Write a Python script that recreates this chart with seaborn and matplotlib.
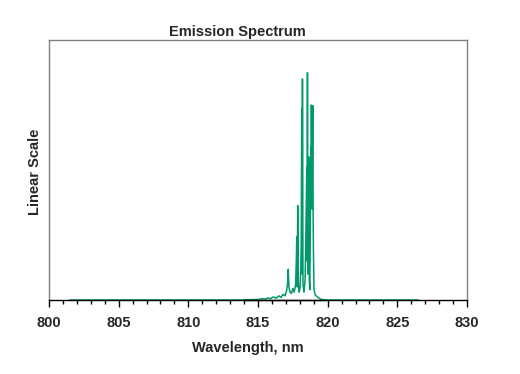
import matplotlib
matplotlib.use("Agg")
import matplotlib.pyplot as plt
import seaborn as sns
import pandas as pd
from matplotlib.ticker import MultipleLocator

sns.set_theme(style="white")
plt.rcParams['font.family'] = ['Liberation Sans', 'DejaVu Sans']

wavelength = [801.5, 813.9, 814.0, 815.0, 815.3, 815.5, 815.7, 815.9, 816.1, 816.3,
              816.5, 816.65, 816.8, 816.95, 817.05, 817.12, 817.17, 817.22, 817.3, 817.4,
              817.5, 817.6, 817.7, 817.75, 817.78, 817.82, 817.85, 817.9, 817.95, 818.0,
              818.05, 818.1, 818.14, 818.17, 818.19, 818.23, 818.3, 818.38, 818.45, 818.5,
              818.52, 818.55, 818.58, 818.62, 818.64, 818.68, 818.72, 818.76, 818.79, 818.81,
              818.83, 818.88, 818.93, 818.96, 818.98, 819.02, 819.1, 819.2, 819.35, 819.5,
              819.7, 820.0, 826.5]
intensity = [0, 0, 0.1, 0.2, 0.5, 0.3, 0.8, 0.5, 1.2, 0.7,
             1.6, 1.0, 2.2, 1.6, 3.5, 6, 11.8, 5, 3.0, 2.5,
             4.5, 3, 6, 15, 24.4, 5, 36.3, 6, 3, 4,
             8, 20, 73.5, 10, 85, 6, 3, 8, 30, 51.3,
             15, 87.4, 10, 20, 55.1, 8, 4, 30, 59, 40,
             75, 35, 74.7, 30, 18, 4, 2, 1.5, 0.8, 0.3,
             0.1, 0, 0]
baseline_x = [814.0, 819.9]
baseline_y = [0, 0]

df = pd.DataFrame({"Wavelength": wavelength, "Intensity": intensity})
base = pd.DataFrame({"Wavelength": baseline_x, "Intensity": baseline_y})

fig = plt.figure(figsize=(5.2, 3.74), dpi=100)
ax = fig.add_axes([49/520, 1-300/374, (467-49)/520, 260/374])

green = "#00996b"
sns.lineplot(data=df, x="Wavelength", y="Intensity", ax=ax, color=green,
             linewidth=1.1, sort=False, estimator=None, clip_on=False)
sns.lineplot(data=base, x="Wavelength", y="Intensity", ax=ax, color="black",
             linewidth=1.0, sort=False, estimator=None, clip_on=False)

ax.set_xlim(800, 830)
ax.set_ylim(0, 100)
ax.xaxis.set_major_locator(MultipleLocator(5))
ax.xaxis.set_minor_locator(MultipleLocator(1))
ax.set_yticks([])
ax.tick_params(axis='x', which='major', direction='out', length=5, width=1,
               color='black', bottom=True, labelsize=10.5, pad=6.5)
ax.tick_params(axis='x', which='minor', direction='out', length=3, width=1,
               color='black', bottom=True)
for lbl in ax.get_xticklabels():
    lbl.set_fontweight('bold')
for s in ['left', 'top', 'right']:
    ax.spines[s].set_color('#808080')
    ax.spines[s].set_linewidth(1)
ax.spines['bottom'].set_color('black')
ax.spines['bottom'].set_linewidth(1)

ax.set_xlabel("")
ax.set_ylabel("")
fig.text(248/520, 1-348/374, "Wavelength, nm", ha='center', va='center',
         fontsize=10.5, fontweight='bold')
fig.text(35/520, 1-172/374, "Linear Scale", ha='center', va='center',
         rotation=90, fontsize=10.5, fontweight='bold')
fig.text(237/520, 1-32/374, "Emission Spectrum", ha='center', va='center',
         fontsize=10.5, fontweight='bold')

fig.savefig("out.png", dpi=100)
